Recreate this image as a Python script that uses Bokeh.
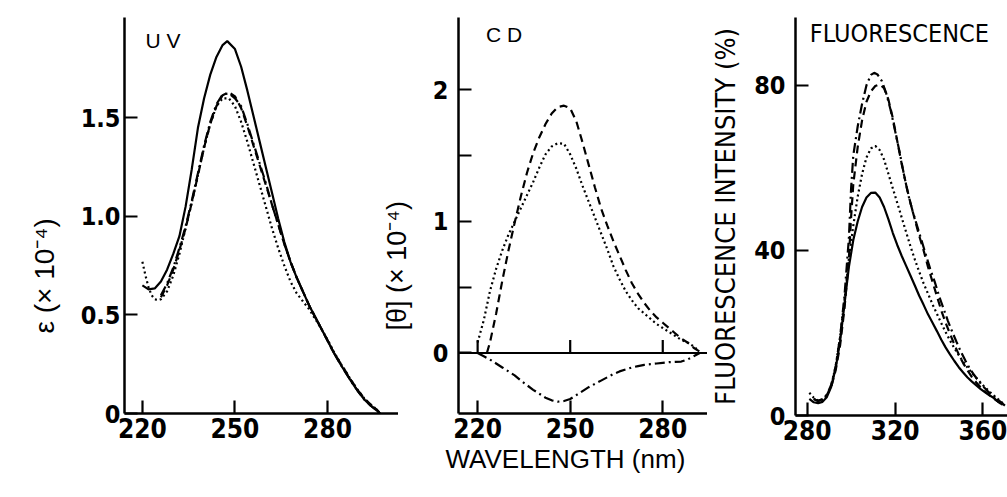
from bokeh.plotting import figure
from bokeh.layouts import row
from bokeh.models import Range1d, FixedTicker, Span, Label, Title
from bokeh.embed import file_html
from bokeh.resources import INLINE

# ---------------- UV (epsilon x 1e-4) ----------------
uv_solid_wl = [220, 222, 224, 226, 228, 230, 232, 234, 236, 238, 240, 242, 244, 246, 247.5, 250,
               252, 254, 256, 258, 260, 262, 264, 266, 268, 270, 272, 274, 276, 278, 280, 282,
               284, 286, 288, 290, 292, 294, 296, 297]
uv_solid = [0.65, 0.63, 0.635, 0.67, 0.73, 0.81, 0.90, 1.05, 1.24, 1.45, 1.60, 1.72, 1.81, 1.87, 1.89, 1.85,
            1.76, 1.64, 1.51, 1.38, 1.25, 1.12, 0.99, 0.87, 0.77, 0.69, 0.62, 0.55, 0.49, 0.43, 0.37, 0.31,
            0.255, 0.205, 0.155, 0.11, 0.07, 0.04, 0.015, 0.0]

uv_dashdot_wl = [226, 228, 230, 232, 234, 236, 238, 240, 242, 244, 246, 248, 250, 252, 254, 256, 258,
                 260, 262, 264, 266, 268, 270, 272, 274, 276, 278, 280, 282, 284, 286, 288, 290,
                 292, 294, 296, 297]
uv_dashdot = [0.60, 0.66, 0.74, 0.84, 0.95, 1.08, 1.22, 1.36, 1.48, 1.57, 1.62, 1.625, 1.60, 1.56, 1.47,
              1.37, 1.27, 1.17, 1.06, 0.96, 0.86, 0.77, 0.69, 0.62, 0.55, 0.49, 0.43, 0.37, 0.31,
              0.255, 0.205, 0.155, 0.11, 0.07, 0.04, 0.015, 0.0]

uv_dashed_wl = [226, 228, 230, 232, 234, 236, 238, 240, 242, 244, 246, 248, 250, 252, 254, 256, 258,
                260, 262, 264, 266, 268, 270, 272, 274, 276, 278, 280, 282, 284, 286, 288, 290,
                292, 294, 296, 297]
uv_dashed = [0.59, 0.65, 0.73, 0.83, 0.94, 1.07, 1.21, 1.35, 1.47, 1.56, 1.615, 1.63, 1.61, 1.55, 1.46,
             1.36, 1.26, 1.16, 1.06, 0.96, 0.86, 0.77, 0.69, 0.62, 0.55, 0.49, 0.43, 0.37, 0.31,
             0.26, 0.21, 0.16, 0.115, 0.075, 0.045, 0.02, 0.0]

uv_dotted_wl = [220, 221, 222, 223, 224, 225, 226, 228, 230, 232, 234, 236, 238, 240, 242, 244, 246,
                248, 250, 252, 254, 256, 258, 260, 262, 264, 266, 268, 270, 272, 274, 276, 278,
                280, 282, 284, 286, 288, 290, 292, 294, 296, 297]
uv_dotted = [0.77, 0.70, 0.64, 0.60, 0.58, 0.575, 0.58, 0.62, 0.70, 0.81, 0.94, 1.07, 1.21, 1.35, 1.47,
             1.56, 1.60, 1.60, 1.56, 1.48, 1.38, 1.27, 1.16, 1.05, 0.94, 0.84, 0.75, 0.67, 0.61,
             0.57, 0.53, 0.48, 0.43, 0.375, 0.315, 0.26, 0.21, 0.16, 0.115, 0.075, 0.045, 0.02, 0.0]

uv_xticks = [220, 250, 280]
uv_yticks = [0, 0.5, 1.0, 1.5]
uv_ylabels = {0: "0", 0.5: "0.5", 1: "1.0", 1.5: "1.5"}

# ---------------- CD ([theta] x 1e-4) ----------------
cd_dashed_wl = [223, 224, 226, 228, 230, 232, 234, 236, 238, 240, 242, 244, 246, 248, 250, 252, 254,
                256, 258, 260, 262, 264, 266, 268, 270, 272, 274, 276, 278, 280, 282, 284, 286,
                288, 290, 292]
cd_dashed = [0.0, 0.08, 0.30, 0.55, 0.78, 0.99, 1.19, 1.37, 1.52, 1.64, 1.74, 1.82, 1.87, 1.88, 1.86,
             1.76, 1.60, 1.43, 1.26, 1.10, 0.97, 0.85, 0.74, 0.63, 0.53, 0.45, 0.38, 0.32, 0.27,
             0.23, 0.19, 0.15, 0.11, 0.08, 0.04, 0.01]

cd_dotted_wl = [220, 222, 224, 226, 228, 230, 232, 234, 236, 238, 240, 242, 244, 246, 248, 250, 252,
                254, 256, 258, 260, 262, 264, 266, 268, 270, 272, 274, 276, 278, 280, 282, 284,
                286, 288, 290, 291]
cd_dotted = [0.08, 0.25, 0.47, 0.64, 0.78, 0.90, 1.00, 1.10, 1.20, 1.30, 1.41, 1.51, 1.57, 1.595, 1.59,
             1.51, 1.40, 1.27, 1.15, 1.03, 0.91, 0.79, 0.66, 0.56, 0.47, 0.40, 0.34, 0.30, 0.26,
             0.22, 0.19, 0.16, 0.13, 0.10, 0.08, 0.05, 0.03]

cd_dashdot_wl = [220, 222, 224, 226, 228, 230, 232, 234, 236, 238, 240, 242, 244, 246, 248, 250, 252,
                 254, 256, 258, 260, 262, 264, 266, 268, 270, 272, 274, 276, 278, 280, 282, 284,
                 286, 288, 290, 292]
cd_dashdot = [0.0, -0.025, -0.05, -0.08, -0.11, -0.14, -0.17, -0.21, -0.245, -0.28, -0.31, -0.34,
              -0.36, -0.37, -0.365, -0.35, -0.32, -0.29, -0.26, -0.235, -0.21, -0.185, -0.16, -0.14,
              -0.125, -0.11, -0.10, -0.09, -0.085, -0.08, -0.075, -0.07, -0.068, -0.065, -0.05,
              -0.025, 0.0]

cd_xticks = [220, 250, 280]
cd_yticks = [0, 1, 2]
cd_yminor = [0.5, 1.5]

# ---------------- Fluorescence intensity (%) ----------------
fl_solid_wl = [281, 283, 285, 287, 289, 291, 293, 295, 297, 299, 301, 303, 305, 307, 309, 311, 313,
               315, 317, 319, 321, 323, 325, 327, 329, 331, 333, 335, 337, 339, 341, 343, 345, 347,
               349, 351, 353, 355, 357, 359, 361, 363, 365, 367, 369]
fl_solid = [4.0, 3.2, 3.0, 3.3, 4.5, 7.0, 11.5, 18, 27, 36, 42.5, 47, 50.5, 52.8, 53.9, 54, 52.8,
            50.5, 47.5, 44.2, 41.3, 38.7, 36.3, 33.9, 31.5, 29, 26.8, 24.5, 22.5, 20.5, 18.4, 16.5,
            14.8, 13.2, 11.7, 10.4, 9.2, 8.2, 7.3, 6.4, 5.6, 4.9, 4.2, 3.3, 2.6]

fl_dotted_wl = fl_solid_wl
fl_dotted = [5.5, 4.3, 3.6, 3.6, 4.8, 7.3, 12, 19, 28, 38, 46, 53, 58.5, 62.5, 64.7, 65.3, 64.3,
             62, 58.5, 55, 51.5, 48, 44.5, 41, 37.8, 34.8, 32, 29.5, 27, 24.7, 22.4, 20.2, 18.2,
             16.3, 14.6, 13, 11.6, 10.3, 9.1, 7.9, 6.8, 5.8, 4.8, 3.9, 3.0]

fl_dashed_wl = [283, 285, 287, 289, 291, 293, 295, 297, 299, 300, 301, 303, 305, 307, 309, 311, 313,
                315, 317, 319, 321, 323, 325, 327, 329, 331, 333, 335, 337, 339, 341, 343, 345, 347,
                349, 351, 353, 355, 357, 359, 361, 363, 365, 367, 369, 370]
fl_dashed = [4, 3.5, 4, 5, 7, 11, 17, 26, 38, 48, 56, 65, 71.5, 76, 78.5, 79.8, 80.2, 79.3, 76.5, 72,
             66.5, 61, 56, 51.5, 47.5, 43.5, 40, 36, 32.5, 29, 25.5, 22.5, 19.8, 17.2, 14.8, 12.7,
             10.9, 9.3, 8, 6.8, 5.8, 4.9, 4.1, 3.3, 2.6, 2.2]

fl_dashdot_wl = [283, 285, 287, 289, 291, 293, 295, 297, 299, 300, 301, 303, 305, 307, 309, 310.5,
                 312, 314, 316, 318, 320, 322, 324, 326, 328, 330, 332, 334, 336, 338, 340, 342, 344,
                 346, 348, 350, 352, 354, 356, 358, 360, 362, 364, 366, 368, 370]
fl_dashdot = [4, 3.5, 4, 5, 7.5, 12, 19, 29, 43, 55, 63, 70, 75.5, 80, 82.5, 83, 82.6, 81, 78, 74,
              69, 64, 58.5, 53.5, 49.5, 46, 42.5, 39, 35.5, 32.5, 29, 26, 23, 20.3, 17.8, 15.4, 13.3,
              11.4, 9.8, 8.4, 7.1, 6.0, 5.0, 4.2, 3.3, 2.4]

fl_xticks = [280, 320, 360]
fl_yticks = [0, 40, 80]

# ---------------- styling ----------------
NARROW = "Liberation Sans Narrow, DejaVu Sans Condensed, sans-serif"
REG = "Liberation Sans, Arial, sans-serif"
LW = 2.2
DASH = "8 5"
DOT = "2 3"
DASHDOT = "10 4 2 4"
H = 490
TICK_PX = 13
TICK_COLOR = "black"


def make_fig(xr, yr, bl, fw, bt, fh, xticks, yticks, yminor=None):
    p = figure(x_range=Range1d(*xr), y_range=Range1d(*yr), frame_width=fw, frame_height=fh,
               min_border_left=bl, min_border_right=0, min_border_top=bt,
               min_border_bottom=H - bt - fh, toolbar_location=None, output_backend="svg")
    p.xgrid.visible = False
    p.ygrid.visible = False
    p.outline_line_color = None
    p.background_fill_alpha = 0
    p.border_fill_alpha = 0
    p.xaxis.ticker = FixedTicker(ticks=xticks)
    if yminor:
        p.yaxis.ticker = FixedTicker(ticks=yticks, minor_ticks=yminor)
    else:
        p.yaxis.ticker = FixedTicker(ticks=yticks)
    for ax in p.axis:
        ax.axis_line_width = 2.5
        ax.axis_line_color = "black"
        ax.major_tick_line_color = TICK_COLOR
        ax.major_tick_line_width = 2.2
        ax.major_tick_in = TICK_PX
        ax.major_tick_out = 0
        ax.minor_tick_line_color = TICK_COLOR
        ax.minor_tick_line_width = 2.2
        ax.minor_tick_in = TICK_PX
        ax.minor_tick_out = 0
        ax.major_label_text_font = NARROW
        ax.major_label_text_font_style = "bold"
        ax.major_label_text_color = "black"
        ax.axis_label_text_font_style = "normal"
        ax.axis_label_text_color = "black"
    p.xaxis.major_label_text_font_size = "26px"
    p.xaxis.major_label_standoff = 4
    p.yaxis.major_label_text_font_size = "25px"
    return p


def side_title(p, text, size, offset, place="left", standoff=36):
    kw = dict(text=text, align="left", offset=offset, text_font=REG, text_font_size=size,
              text_font_style="normal", text_color="black")
    try:
        t = Title(standoff=standoff, **kw)
    except (AttributeError, ValueError, TypeError):
        t = Title(**kw)
    p.add_layout(t, place)


# UV panel
uv_xr, uv_yr = (214.2, 303.0), (0, 2.01)
p1 = make_fig(uv_xr, uv_yr, 124, 274, 14, 396, uv_xticks, uv_yticks)
p1.yaxis.major_label_overrides = uv_ylabels
p1.yaxis.major_label_standoff = 4
side_title(p1, "ε (× 10⁻⁴)", "28px", 80, standoff=36)
p1.line(uv_solid_wl, uv_solid, line_color="black", line_width=LW)
p1.line(uv_dashed_wl, uv_dashed, line_color="black", line_width=LW, line_dash=DASH)
p1.line(uv_dashdot_wl, uv_dashdot, line_color="black", line_width=LW, line_dash=DASHDOT)
p1.line(uv_dotted_wl, uv_dotted, line_color="black", line_width=LW, line_dash=DOT)
p1.add_layout(Label(x=221, y=1.95, text="U V", text_font=REG, text_font_size="21px",
                    text_baseline="top", text_color="black"))

# CD panel
cd_xr, cd_yr = (213.8, 294.5), (-0.46, 2.55)
p2 = make_fig(cd_xr, cd_yr, 105, 249, 17, 396, cd_xticks, cd_yticks, cd_yminor)
p2.margin = (0, 0, 0, -45)
p2.yaxis.major_label_standoff = 10
side_title(p2, "[θ] (× 10⁻⁴)", "27px", 83, standoff=36)
side_title(p2, "WAVELENGTH (nm)", "26px", -13, place="below", standoff=2)
p2.add_layout(Span(location=0, dimension="width", line_color="black", line_width=2.2))
p2.segment(x0=cd_xticks, y0=[0] * len(cd_xticks), x1=cd_xticks,
           y1=[TICK_PX * (cd_yr[1] - cd_yr[0]) / 396] * len(cd_xticks),
           line_color=TICK_COLOR, line_width=2.2)
p2.line(cd_dashed_wl, cd_dashed, line_color="black", line_width=LW, line_dash=DASH)
p2.line(cd_dotted_wl, cd_dotted, line_color="black", line_width=LW, line_dash=DOT)
p2.line(cd_dashdot_wl, cd_dashdot, line_color="black", line_width=LW, line_dash=DASHDOT)
p2.add_layout(Label(x=222.7, y=2.51, text="C D", text_font=REG, text_font_size="21px",
                    text_baseline="top", text_color="black"))

# Fluorescence panel
fl_xr, fl_yr = (274.7, 373.0), (0, 96.4)
p3 = make_fig(fl_xr, fl_yr, 75, 216, 15, 398, fl_xticks, fl_yticks)
p3.yaxis.major_label_standoff = 10
p3.yaxis.axis_label = "FLUORESCENCE INTENSITY (%)"
p3.yaxis.axis_label_text_font = NARROW
p3.yaxis.axis_label_text_font_size = "27px"
p3.yaxis.axis_label_standoff = 10
p3.line(fl_solid_wl, fl_solid, line_color="black", line_width=LW)
p3.line(fl_dotted_wl, fl_dotted, line_color="black", line_width=LW, line_dash=DOT)
p3.line(fl_dashed_wl, fl_dashed, line_color="black", line_width=LW, line_dash=DASH)
p3.line(fl_dashdot_wl, fl_dashdot, line_color="black", line_width=LW, line_dash=DASHDOT)
p3.add_layout(Label(x=281.2, y=96.0, text="FLUORESCENCE", text_font=NARROW,
                    text_font_size="25px", text_baseline="top", text_color="black"))

layout = row(p1, p2, p3)
open("out.html", "w").write(file_html(layout, INLINE))
